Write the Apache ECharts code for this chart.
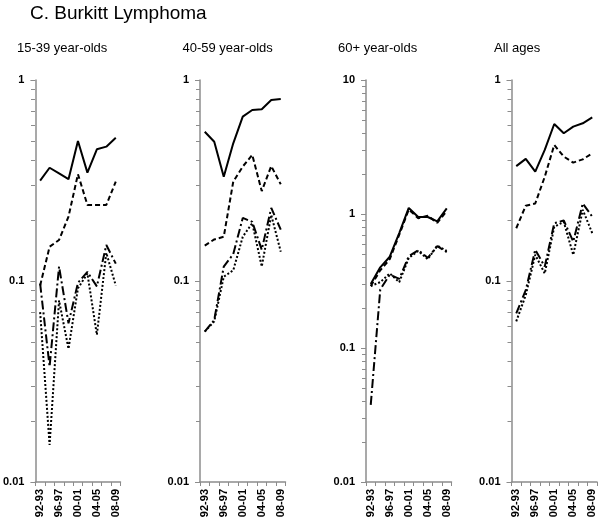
<!DOCTYPE html>
<html><head><meta charset="utf-8">
<script src="https://cdn.jsdelivr.net/npm/echarts@6/dist/echarts.min.js"></script>
<style>html,body{margin:0;padding:0;background:#fff}#c{width:601px;height:523px}</style>
</head><body><div id="c"></div>
<script>
// ---- data ----
const categories = ['92-93','94-95','96-97','98-99','00-01','02-03','04-05','06-07','08-09'];
const panelTitles = ['15-39 year-olds','40-59 year-olds','60+ year-olds','All ages'];
const mainTitle = 'C. Burkitt Lymphoma';
const yMin = [0.01, 0.01, 0.01, 0.01];
const yMax = [1, 1, 10, 1];

// panel 1: 15-39
const p1Solid  = [0.316, 0.366, 0.343, 0.321, 0.497, 0.346, 0.452, 0.466, 0.516];
const p1Dashed = [0.095, 0.148, 0.160, 0.209, 0.340, 0.239, 0.239, 0.239, 0.312];
const p1DashDot= [0.097, 0.0375, 0.118, 0.0616, 0.098, 0.111, 0.094, 0.151, 0.122];
const p1Dotted = [0.070, 0.0153, 0.080, 0.046, 0.092, 0.109, 0.054, 0.138, 0.095];
// panel 2: 40-59
const p2Solid  = [0.553, 0.493, 0.330, 0.484, 0.657, 0.709, 0.715, 0.795, 0.804];
const p2Dashed = [0.150, 0.161, 0.166, 0.312, 0.371, 0.424, 0.280, 0.373, 0.303];
const p2DashDot= [0.056, 0.064, 0.118, 0.136, 0.206, 0.197, 0.143, 0.231, 0.180];
const p2Dotted = [0.056, 0.063, 0.105, 0.113, 0.166, 0.194, 0.118, 0.213, 0.140];
// panel 3: 60+
const p3Solid  = [0.30, 0.40, 0.48, 0.72, 1.11, 0.95, 0.95, 0.88, 1.10];
const p3Dashed = [0.29, 0.38, 0.46, 0.70, 1.08, 0.93, 0.97, 0.86, 1.05];
const p3DashDot= [0.0376, 0.273, 0.353, 0.328, 0.484, 0.537, 0.471, 0.575, 0.52];
const p3Dotted = [0.29, 0.31, 0.36, 0.31, 0.47, 0.53, 0.46, 0.58, 0.53];
// panel 4: all ages
const p4Solid  = [0.373, 0.405, 0.350, 0.449, 0.604, 0.543, 0.586, 0.609, 0.652];
const p4Dashed = [0.183, 0.237, 0.243, 0.330, 0.475, 0.416, 0.388, 0.403, 0.432];
const p4DashDot= [0.069, 0.090, 0.143, 0.118, 0.194, 0.200, 0.157, 0.243, 0.209];
const p4Dotted = [0.063, 0.085, 0.135, 0.109, 0.186, 0.197, 0.135, 0.226, 0.173];

const panels = [
  [p1Solid, p1Dashed, p1DashDot, p1Dotted],
  [p2Solid, p2Dashed, p2DashDot, p2Dotted],
  [p3Solid, p3Dashed, p3DashDot, p3Dotted],
  [p4Solid, p4Dashed, p4DashDot, p4Dotted]
];
const seriesNames = ['Series 1','Series 2','Series 3','Series 4'];

// ---- layout / style ----
const FONT = 'Liberation Sans, Arial, sans-serif';
const gridLeft = [35, 200, 366, 511.5];
const gridW = 85.5, gridTop = 80, gridH = 402;
const titleLeft = [17, 182.5, 338, 494];
const axisColor = '#8c8c8c';
const styles = [
  {type: 'solid', width: 2},
  {type: [5, 3], width: 2},
  {type: [9, 3, 2, 3], width: 2},
  {type: [2, 2], width: 2}
];

const chart = echarts.init(document.getElementById('c'), null, {renderer: 'canvas'});

const grids = [], xAxes = [], yAxes = [], series = [];
const titles = [{text: mainTitle, left: 30, top: 4.5, padding: 0,
  textStyle: {fontFamily: FONT, fontSize: 19, fontWeight: 'normal', color: '#000', lineHeight: 19}}];

for (let i = 0; i < 4; i++) {
  grids.push({left: gridLeft[i], top: gridTop, width: gridW, height: gridH, containLabel: false});
  titles.push({text: panelTitles[i], left: titleLeft[i], top: 41.5, padding: 0,
    textStyle: {fontFamily: FONT, fontSize: 13, fontWeight: 'normal', color: '#000', lineHeight: 13}});
  xAxes.push({
    type: 'category', gridIndex: i, data: categories, boundaryGap: true,
    axisLine: {lineStyle: {color: axisColor, width: 1.5}},
    axisTick: {show: true, interval: 0, length: 4, lineStyle: {color: axisColor, width: 1}},
    axisLabel: {interval: 1, rotate: 90, margin: 7, fontFamily: FONT, fontSize: 11,
      fontWeight: 'bold', color: '#000'},
    splitLine: {show: false}
  });
  yAxes.push({
    type: 'log', logBase: 10, gridIndex: i, min: yMin[i], max: yMax[i],
    axisLine: {show: true, lineStyle: {color: axisColor, width: 1.5}},
    axisTick: {show: true, length: 5, lineStyle: {color: axisColor, width: 1}},
    axisLabel: {margin: 11, fontFamily: FONT, fontSize: 11, fontWeight: 'bold', color: '#000',
      formatter: v => String(+(+v).toPrecision(2))},
    splitLine: {show: false}
  });
  panels[i].forEach((arr, k) => {
    series.push({
      name: seriesNames[k], type: 'line', xAxisIndex: i, yAxisIndex: i, data: arr,
      symbol: 'none', smooth: false, animation: false,
      lineStyle: {color: '#000', width: styles[k].width, type: styles[k].type}
    });
  });
}

chart.setOption({
  animation: false,
  backgroundColor: '#fff',
  title: titles, grid: grids, xAxis: xAxes, yAxis: yAxes, series: series
});

// minor ticks at 2..9 x each decade, positioned through the axis scale
const graphics = [];
for (let i = 0; i < 4; i++) {
  for (let d = yMin[i]; d < yMax[i] * 0.999; d *= 10) {
    for (let m = 2; m <= 9; m++) {
      const v = d * m;
      const py = chart.convertToPixel({yAxisIndex: i}, v);
      graphics.push({type: 'line', silent: true,
        shape: {x1: gridLeft[i] - 4, y1: Math.round(py) + 0.5, x2: gridLeft[i], y2: Math.round(py) + 0.5},
        style: {stroke: axisColor, lineWidth: 1}});
    }
  }
}
chart.setOption({graphic: graphics});
</script></body></html>
